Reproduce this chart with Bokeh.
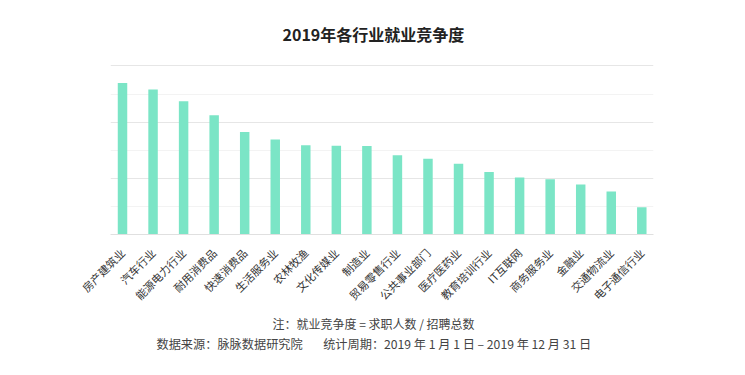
import math
from bokeh.plotting import figure
from bokeh.models import Range1d, FixedTicker, Title, ColumnDataSource
from bokeh.embed import file_html
from bokeh.resources import INLINE

categories = ["房产建筑业", "汽车行业", "能源电力行业", "耐用消费品", "快速消费品", "生活服务业",
              "农林牧渔", "文化传媒业", "制造业", "贸易零售行业", "公共事业部门", "医疗医药业",
              "教育培训行业", "IT互联网", "商务服务业", "金融业", "交通物流业", "电子通信行业"]
values = [5.39, 5.16, 4.74, 4.24, 3.65, 3.38, 3.18, 3.16, 3.15, 2.82, 2.70, 2.52,
          2.22, 2.03, 1.97, 1.78, 1.53, 0.97]
major_ticks = [0, 2, 4, 6]
minor_ticks = [1, 3, 5]

FONT = "Noto Sans CJK SC"

idx = list(range(len(categories)))
src = ColumnDataSource(dict(x=idx, top=values))

p = figure(width=729, height=359, output_backend="svg", toolbar_location=None,
           x_range=Range1d(-0.393, len(categories) - 1 + 0.383),
           y_range=Range1d(0, 6.05),
           min_border_left=110, min_border_right=76, min_border_top=64, min_border_bottom=125)
p.outline_line_color = None
p.background_fill_color = "white"
p.border_fill_color = "white"

p.vbar(x="x", top="top", width=0.31, source=src, color="#7be5c6", line_color=None)

p.xgrid.visible = False
p.yaxis.visible = False
p.yaxis.ticker = FixedTicker(ticks=major_ticks, minor_ticks=minor_ticks)
p.ygrid.ticker = FixedTicker(ticks=major_ticks, minor_ticks=minor_ticks)
p.ygrid.grid_line_color = "#e6e6e6"
p.ygrid.minor_grid_line_color = "#f3f3f3"

p.xaxis.ticker = FixedTicker(ticks=idx)
p.xaxis.major_label_overrides = {i: c for i, c in zip(idx, categories)}
p.xaxis.major_label_orientation = math.pi / 4
p.xaxis.axis_line_color = "#e0e0e0"
p.xaxis.major_tick_line_color = None
p.xaxis.minor_tick_line_color = None
p.xaxis.major_label_text_font = FONT
p.xaxis.major_label_text_font_size = "11px"
p.xaxis.major_label_text_color = "#333333"
p.xaxis.major_label_standoff = 10

p.title.text = "2019年各行业就业竞争度"
p.title.align = "left"
p.title.offset = 172
p.title.text_font = FONT
p.title.text_font_size = "16px"
p.title.text_font_style = "bold"
p.title.text_color = "#222222"
p.title.standoff = 38

note = Title(text="注：就业竞争度 = 求职人数 / 招聘总数", align="left", offset=162,
             text_font=FONT, text_font_size="12px", text_font_style="normal",
             text_color="#444444", standoff=2)
src_line = Title(text="数据来源：脉脉数据研究院\u3000\u00a0\u00a0\u00a0统计周期：2019 年 1 月 1 日 – 2019 年 12 月 31 日",
                 align="left", offset=46, text_font=FONT, text_font_size="12.2px",
                 text_font_style="normal", text_color="#444444", standoff=0)
p.add_layout(note, "below")
p.add_layout(src_line, "below")

open("out.html", "w").write(file_html(p, INLINE))
